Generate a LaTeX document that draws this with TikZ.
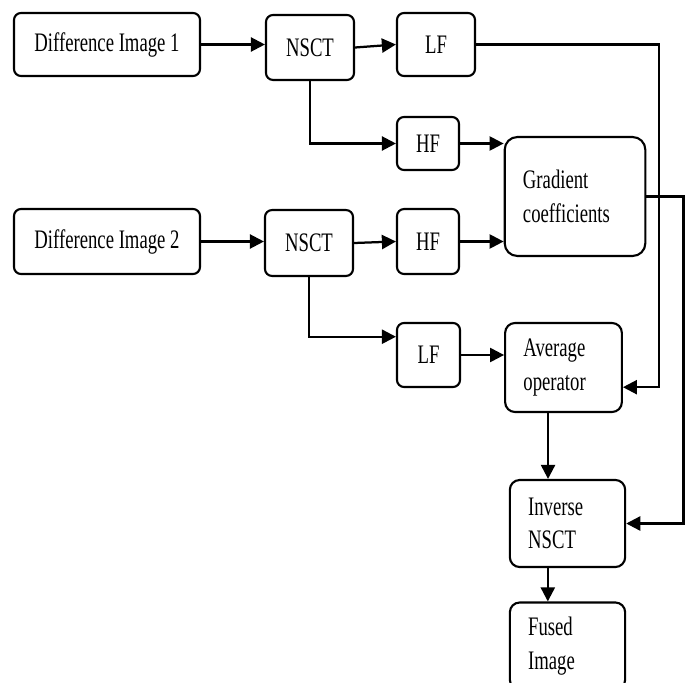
\documentclass[tikz,border=0pt]{standalone}
\usepackage{fontspec}
\setmainfont[FakeStretch=0.7]{Liberation Serif}
\usetikzlibrary{arrows.meta}

\begin{document}
\begin{tikzpicture}[x=0.025cm,y=-0.025cm,
    blk/.style={draw,line width=1.5pt,rounded corners=5pt,inner sep=2pt,font=\fontsize{19}{24}\selectfont},
    mlt/.style={blk,rounded corners=7pt,align=left,inner xsep=13pt,text width=#1},
    arr/.style={-{Triangle[length=10pt,width=10pt]},line width=1.6pt}
]
\useasboundingbox (0,0) rectangle (688,682);

% first input
\node[blk,minimum width=132.3pt,minimum height=44.8pt] (di1) at (107,44.5) {Difference Image 1};
\node[blk,minimum width=62.6pt,minimum height=46.2pt] (nscta) at (310,47.5) {NSCT};
\node[blk,minimum width=55.5pt,minimum height=44.8pt] (lfa) at (436,44.5) {LF};
\node[blk,minimum width=44.1pt,minimum height=37.7pt] (hfa) at (428,143.5) {HF};

% second input
\node[blk,minimum width=132.3pt,minimum height=46.2pt] (di2) at (107,241.5) {Difference Image 2};
\node[blk,minimum width=62.6pt,minimum height=46.9pt] (nsctb) at (309,243) {NSCT};
\node[blk,minimum width=44.1pt,minimum height=46.2pt] (hfb) at (428,241.5) {HF};
\node[blk,minimum width=44.8pt,minimum height=45.5pt] (lfb) at (428.5,355) {LF};

% fusion
\node[mlt=74pt,rounded corners=9pt,minimum height=84.6pt] (gc) at (575,196.5) {Gradient\\coefficients};
\node[mlt=57pt,minimum height=63.3pt] (ao) at (563.5,367.5) {Average\\operator};
\node[mlt=56pt,minimum height=61.9pt] (inv) at (567.5,523.5) {Inverse\\NSCT};
\node[mlt=56pt,minimum height=61.9pt] (fused) at (567.5,646) {Fused\\Image};

% connectors
\draw[arr] (di1.east) -- (di1.east -| nscta.west);
\draw[arr] (nscta.east) -- (lfa.west);
\draw[arr] (nscta.south) |- (hfa.west);
\draw[arr] (di2.east) -- (di2.east -| nsctb.west);
\draw[arr] (nsctb.east) -- (hfb.west);
\draw[arr] (nsctb.south) |- ([yshift=13pt]lfb.west);
\draw[arr] (hfa.east) -- (hfa.east -| gc.west);
\draw[arr] (hfb.east) -- (hfb.east -| gc.west);
\draw[arr] (lfb.east) -- (lfb.east -| ao.west);
\draw[arr] (lfa.east) -- ++(183,0) |- ([yshift=-14pt]ao.east);
\draw[arr] (gc.east) -- ++(37,0) |- (inv.east);
\draw[arr] ([xshift=-11pt]ao.south) -- ([xshift=-11pt]ao.south |- inv.north);
\draw[arr] ([xshift=-14pt]inv.south) -- ([xshift=-14pt]inv.south |- fused.north);
\end{tikzpicture}
\end{document}
